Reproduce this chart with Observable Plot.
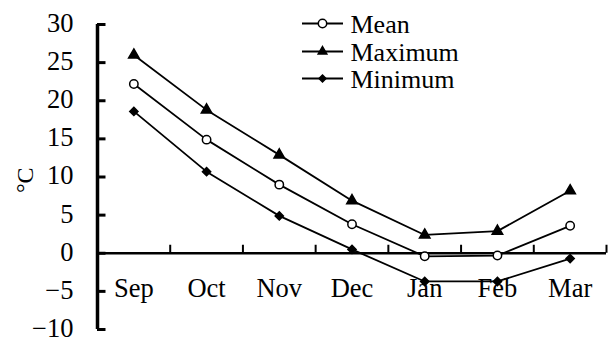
<!DOCTYPE html>
<html>
<head>
<meta charset="utf-8">
<script src="https://cdn.jsdelivr.net/npm/d3@7"></script>
<script src="https://cdn.jsdelivr.net/npm/@observablehq/plot@0.6"></script>
<style>
  html, body { margin: 0; padding: 0; background: #fff; }
  #chart svg { display: block; }
  #chart svg, #chart svg text {
    font-family: "Liberation Serif", "DejaVu Serif", "Times New Roman", serif !important;
  }
</style>
</head>
<body>
<div id="chart"></div>
<script>
// Monthly air temperature, °C
const months = ["Sep", "Oct", "Nov", "Dec", "Jan", "Feb", "Mar"];
const meanTemp = [22.2, 14.9, 9.0, 3.8, -0.4, -0.3, 3.6];
const maxTemp  = [26.0, 18.8, 12.9, 6.9, 2.4, 2.9, 8.2];
const minTemp  = [18.6, 10.7, 4.9, 0.5, -3.7, -3.7, -0.7];
const yTicks = [-10, -5, 0, 5, 10, 15, 20, 25, 30];
const seriesNames = ["Mean", "Maximum", "Minimum"];

const fontSize = 26.5;
const W = 608, H = 339;
const mLeft = 97, mRight = 2, mTop = 24, mBottom = 10;
const yDomain = [-10, 30];

// pixel lengths expressed in data units, for short ticks and legend swatches
const pxPerX = (W - mLeft - mRight) / months.length;
const pxPerY = (H - mTop - mBottom) / (yDomain[1] - yDomain[0]);
const xAtPx = (px) => (px - mLeft) / pxPerX;
const yAtPx = (py) => yDomain[1] - (py - mTop) / pxPerY;

// each month sits in the middle of its slot along x
const slot = (i) => i + 0.5;
const rows = (name, values) => values.map((v, i) => ({series: name, x: slot(i), month: months[i], value: v}));
const meanRows = rows("Mean", meanTemp);
const maxRows = rows("Maximum", maxTemp);
const minRows = rows("Minimum", minTemp);

const symbols = {
  Mean: {symbol: "circle", fill: "white", r: 4.2, legendR: 4.2},
  Maximum: {symbol: "triangle", fill: "black", r: 3.9, legendR: 3.2},
  Minimum: {symbol: "diamond2", fill: "black", r: 3.7, legendR: 3.1}
};
const legendRowsPx = [23, 51, 78];
const legend = seriesNames.map((name, i) => ({name, py: legendRowsPx[i]}));

const seriesDots = (data, name) => Plot.dot(data, {
  x: "x", y: "value", symbol: () => symbols[name].symbol,
  r: symbols[name].r, fill: symbols[name].fill, stroke: "black", strokeWidth: 1.5
});

const chart = Plot.plot({
  width: W,
  height: H,
  marginLeft: mLeft,
  marginRight: mRight,
  marginTop: mTop,
  marginBottom: mBottom,
  style: {fontSize: `${fontSize}px`, color: "black", background: "white"},
  symbol: {type: "identity"},
  x: {domain: [0, months.length], axis: null},
  y: {domain: yDomain, ticks: yTicks, tickFormat: (d) => String(d)},
  marks: [
    Plot.axisY(yTicks, {tickSize: 0, tickPadding: 24, fontSize, label: null, dy: -1}),
    // y-axis line and inward ticks
    Plot.ruleX([0], {y1: yDomain[0], y2: yDomain[1], stroke: "black", strokeWidth: 3.5}),
    Plot.ruleY(yTicks, {y: (d) => d, x1: 0, x2: 8.5 / pxPerX, stroke: "black", strokeWidth: 3}),
    // zero line with slot boundary ticks
    Plot.ruleY([0], {x1: 0, x2: months.length, stroke: "black", strokeWidth: 2.6}),
    Plot.ruleX(months.map((d, i) => i + 1), {x: (d) => d, y1: 0, y2: 8 / pxPerY, stroke: "black", strokeWidth: 2}),
    // month labels
    Plot.text(months, {x: (d, i) => slot(i), frameAnchor: "bottom", dy: -33, text: (d) => d, fontSize, fill: "black"}),
    // unit label
    Plot.text(["°C"], {frameAnchor: "left", dx: -72, dy: 16, rotate: -90, text: (d) => d, fontSize: 24, fill: "black"}),
    // series
    Plot.line(meanRows, {x: "x", y: "value", stroke: "black", strokeWidth: 1.8}),
    Plot.line(maxRows, {x: "x", y: "value", stroke: "black", strokeWidth: 1.8}),
    Plot.line(minRows, {x: "x", y: "value", stroke: "black", strokeWidth: 1.8}),
    seriesDots(meanRows, "Mean"),
    seriesDots(maxRows, "Maximum"),
    seriesDots(minRows, "Minimum"),
    // legend
    Plot.ruleY(legend, {y: (d) => yAtPx(d.py), x1: xAtPx(302), x2: xAtPx(343), stroke: "black", strokeWidth: 1.8}),
    ...legend.map((d) => Plot.dot([d], {
      x: xAtPx(322), y: yAtPx(d.py),
      symbol: () => symbols[d.name].symbol, r: symbols[d.name].legendR,
      fill: symbols[d.name].fill, stroke: "black", strokeWidth: 1.5
    })),
    Plot.text(legend, {
      x: xAtPx(350), y: (d) => yAtPx(d.py + 1), text: "name",
      textAnchor: "start", fontSize: 26, fill: "black"
    })
  ]
});

document.getElementById("chart").append(chart);
</script>
</body>
</html>
